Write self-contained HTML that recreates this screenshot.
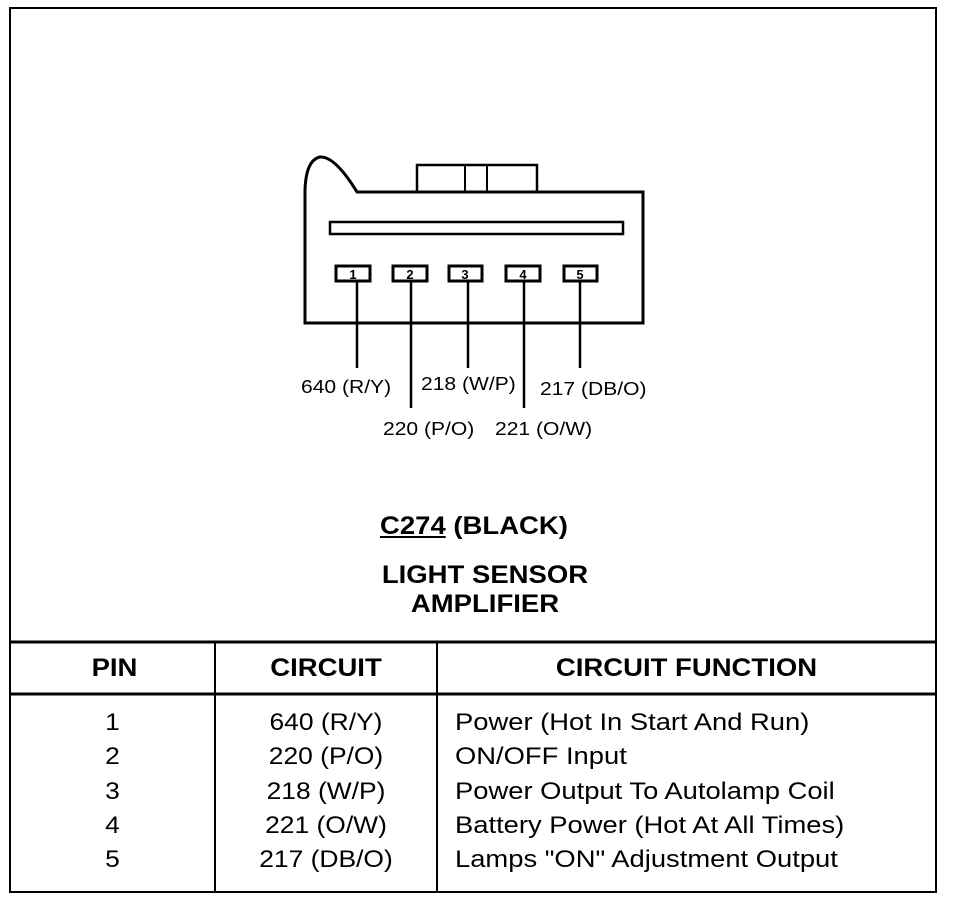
<!DOCTYPE html>
<html><head><style>
body{margin:0;background:#fff;width:960px;height:902px;position:relative;font-family:"Liberation Sans",sans-serif;color:#000;overflow:hidden}
.t{position:absolute;white-space:nowrap;line-height:1}
.b{font-weight:bold}
.l{transform-origin:left top}
.c{transform-origin:center top}
</style></head><body>
<svg width="960" height="902" style="position:absolute;left:0;top:0">
<g fill="none" stroke="#000">
<rect x="10" y="8" width="926" height="884" stroke-width="2"/>
<line x1="10" y1="642" x2="936" y2="642" stroke-width="3"/>
<line x1="10" y1="694" x2="936" y2="694" stroke-width="3"/>
<line x1="215" y1="642" x2="215" y2="892" stroke-width="2"/>
<line x1="437" y1="642" x2="437" y2="892" stroke-width="2"/>
<path d="M305 323 L305 190 Q306 160 320 157 Q335 156 357 192 L643 192 L643 323 Z" stroke-width="3"/>
<rect x="417" y="165" width="120" height="27" stroke-width="2.5"/>
<line x1="465" y1="165" x2="465" y2="192" stroke-width="2"/>
<line x1="487" y1="165" x2="487" y2="192" stroke-width="2"/>
<rect x="330" y="222" width="293" height="12" stroke-width="2.5"/>
<rect x="336" y="266" width="34" height="15" stroke-width="3"/>
<rect x="393" y="266" width="34" height="15" stroke-width="3"/>
<rect x="449" y="266" width="33" height="15" stroke-width="3"/>
<rect x="506" y="266" width="34" height="15" stroke-width="3"/>
<rect x="564" y="266" width="33" height="15" stroke-width="3"/>
<g stroke-width="2.5">
<line x1="357" y1="281" x2="357" y2="368"/>
<line x1="411" y1="281" x2="411" y2="408"/>
<line x1="468" y1="281" x2="468" y2="368"/>
<line x1="524" y1="281" x2="524" y2="408"/>
<line x1="580" y1="281" x2="580" y2="368"/>
</g>
</g>
<g font-family="Liberation Sans" font-size="13" font-weight="bold" text-anchor="middle">
<text x="353" y="279">1</text><text x="410" y="279">2</text><text x="465" y="279">3</text><text x="523" y="279">4</text><text x="580" y="279">5</text>
</g>
</svg>
<div class="t l" style="left:301px;top:378px;font-size:18px;transform:scaleX(1.17)">640 (R/Y)</div>
<div class="t l" style="left:421px;top:375px;font-size:18px;transform:scaleX(1.17)">218 (W/P)</div>
<div class="t l" style="left:540px;top:380px;font-size:18px;transform:scaleX(1.17)">217 (DB/O)</div>
<div class="t l" style="left:383px;top:420px;font-size:18px;transform:scaleX(1.17)">220 (P/O)</div>
<div class="t l" style="left:495px;top:420px;font-size:18px;transform:scaleX(1.17)">221 (O/W)</div>
<div class="t b l" style="left:380px;top:514px;font-size:25px;transform:scaleX(1.1)"><u>C274</u> (BLACK)</div>
<div class="t b c" style="left:10px;width:950px;text-align:center;top:563px;font-size:25px;transform:scaleX(1.1)">LIGHT SENSOR</div>
<div class="t b c" style="left:10px;width:950px;text-align:center;top:592px;font-size:25px;transform:scaleX(1.1)">AMPLIFIER</div>
<div class="t b c" style="left:12px;width:205px;text-align:center;top:656px;font-size:25px;transform:scaleX(1.1)">PIN</div>
<div class="t b c" style="left:215px;width:222px;text-align:center;top:656px;font-size:25px;transform:scaleX(1.1)">CIRCUIT</div>
<div class="t b c" style="left:437px;width:499px;text-align:center;top:656px;font-size:25px;transform:scaleX(1.1)">CIRCUIT FUNCTION</div>
<div class="t c" style="left:10px;width:205px;text-align:center;top:706px;font-size:24px;line-height:34.3px;transform:scaleX(1.1)">1<br>2<br>3<br>4<br>5</div>
<div class="t c" style="left:215px;width:222px;text-align:center;top:706px;font-size:24px;line-height:34.3px;transform:scaleX(1.1)">640 (R/Y)<br>220 (P/O)<br>218 (W/P)<br>221 (O/W)<br>217 (DB/O)</div>
<div class="t l" style="left:455px;top:706px;font-size:24px;line-height:34.3px;transform:scaleX(1.14)">Power (Hot In Start And Run)<br>ON/OFF Input<br>Power Output To Autolamp Coil<br>Battery Power (Hot At All Times)<br>Lamps "ON" Adjustment Output</div>
</body></html>
